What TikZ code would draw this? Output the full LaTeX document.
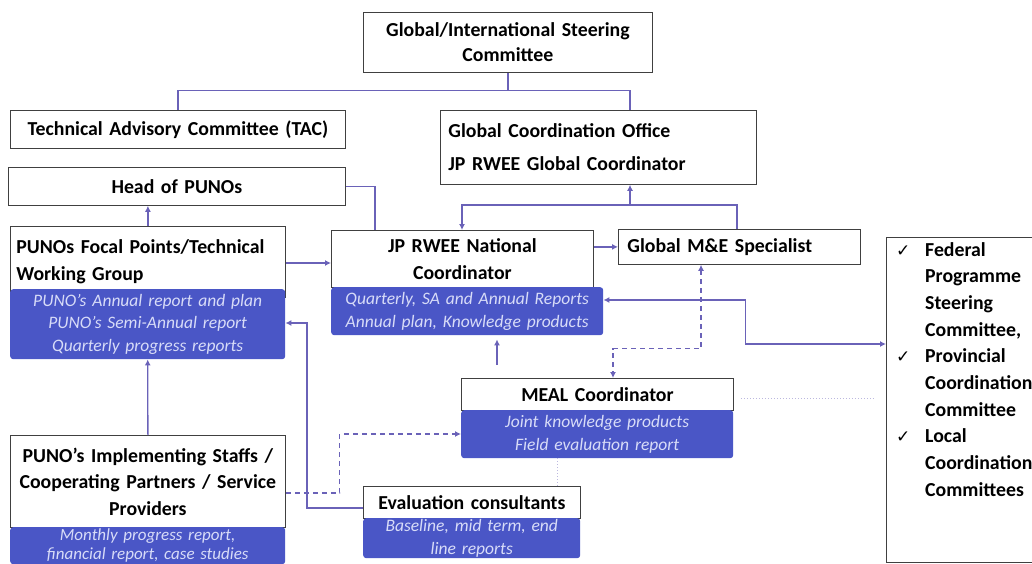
\documentclass[tikz,border=0pt]{standalone}
\usepackage{fontspec}
\setmainfont{Carlito}
\newfontfamily\dv{DejaVu Sans}
\usetikzlibrary{arrows.meta,calc}
\definecolor{ln}{HTML}{6A62B8}
\definecolor{bf}{HTML}{4A56C6}
\definecolor{bt}{HTML}{D8DCF8}
\definecolor{bd}{HTML}{404040}
\newcommand{\chkmk}{\makebox[29pt][l]{\dv\mdseries\fontsize{17}{17}\selectfont ✓}}
\newcommand{\chkind}{\hspace*{29pt}}
\begin{document}
\begin{tikzpicture}[x=1pt,y=-1pt,
  box/.style={draw=bd, line width=0.8pt, fill=white, anchor=north west, inner sep=0pt,
    font=\bfseries\fontsize{19.8}{26.5}\selectfont, align=center},
  blu/.style={fill=bf, anchor=north west, inner sep=0pt, rounded corners=3pt,
    font=\itshape\fontsize{17.5}{22.5}\selectfont, text=bt, align=center},
  plain/.style={draw=ln, line width=1.3pt},
  arr/.style={plain, -{Latex[length=6pt,width=6pt]}},
  arrb/.style={plain, {Latex[length=6pt,width=6pt]}-{Latex[length=6pt,width=6pt]}},
  darr/.style={arr, dashed, dash pattern=on 5pt off 4pt},
  darrb/.style={arrb, dashed, dash pattern=on 5pt off 4pt},
  dotl/.style={draw=ln!45, line width=1pt, dotted}]
\useasboundingbox (0,0) rectangle (1032,564);

% boxes
\node[box, text width=289pt, minimum height=60pt, font=\bfseries\fontsize{19.8}{25}\selectfont] (gisc) at (363,12) {Global/International Steering\\Committee};
\node[box, text width=335pt, minimum height=38pt] (tac) at (10,110) {Technical Advisory Committee (TAC)};
\node[box, text width=300pt, inner xsep=8pt, minimum height=74pt, align=left,
  font=\bfseries\fontsize{19.8}{33}\selectfont] (gco) at (440,110) {Global Coordination Office\\JP RWEE Global Coordinator};
\node[box, text width=337pt, minimum height=38pt] (head) at (8,167) {Head of PUNOs};

\node[box, text width=263pt, inner xsep=6pt, minimum height=71pt, align=left] (fp) at (10,226) {PUNOs Focal Points/Technical\\Working Group};
\node[blu, text width=275pt, minimum height=70pt] (fpb) at (10,289) {PUNO’s Annual report and plan\\PUNO’s Semi-Annual report\\Quarterly progress reports};

\node[box, text width=262pt, minimum height=57pt] (nc) at (331,230) {JP RWEE National\\Coordinator};
\node[blu, text width=272pt, minimum height=48pt] (ncb) at (331,287) {Quarterly, SA and Annual Reports\\Annual plan, Knowledge products};

\node[box, text width=224pt, inner xsep=9pt, minimum height=35pt, align=left] (me) at (618,229) {Global M\&E Specialist};

\node[box, text width=272pt, minimum height=32pt] (meal) at (461,378) {MEAL Coordinator};
\node[blu, text width=272pt, minimum height=48pt] (mealb) at (461,410) {Joint knowledge products\\Field evaluation report};

\node[box, text width=217pt, minimum height=32pt] (ev) at (363,486) {Evaluation consultants};
\node[blu, text width=217pt, minimum height=40pt] (evb) at (363,518) {Baseline, mid term, end\\line reports};

\node[box, text width=275pt, minimum height=92pt] (impl) at (10,435) {PUNO’s Implementing Staffs /\\Cooperating Partners / Service\\Providers};
\node[blu, text width=275pt, minimum height=37pt, font=\itshape\fontsize{17}{19}\selectfont] (implb) at (10,527) {Monthly progress report,\\financial report, case studies};

% right box (right side runs off the page)
\node[anchor=north west, inner sep=0pt, minimum width=146pt, minimum height=325pt] (rb) at (886,237) {};
\draw[bd, line width=0.8pt] (rb.north east) -- (rb.north west) -- (rb.south west) -- (rb.south east);
\node[anchor=north west, inner sep=0pt, align=left, font=\bfseries\fontsize{19.8}{26.7}\selectfont] (rbt) at (896,242)
 {\chkmk Federal\\\chkind Programme\\\chkind Steering\\\chkind Committee,\\
  \chkmk Provincial\\\chkind Coordination\\\chkind Committee\\
  \chkmk Local\\\chkind Coordination\\\chkind Committees};

% connectors
\draw[plain] (gisc.south) -- ++(0,18) -| ([xshift=168pt]tac.north west);
\draw[plain] (gisc.south) -- ++(0,18) -| ([xshift=190pt]gco.north west);
\draw[plain] (head.east) -| ([xshift=44pt]nc.north west);
\draw[arr] (fp.north) -- (fp.north |- head.south);
\draw[arr] ($(fp.north east)+(0,37)$) -- ($(nc.north west)+(0,33)$);
\coordinate (bj) at (630,205);
\draw[arr] (bj) -- (bj |- gco.south);
\draw[arr] ([xshift=119pt]me.north west) |- (bj) -| ([xshift=131pt]nc.north west);
\draw[arr] (me.west -| nc.east) -- (me.west);
\draw[darrb] ([xshift=83pt]me.south west) -- ++(0,84) -| ([xshift=152pt]meal.north west);
\draw[arrb] ($(ncb.north east)+(0,13)$) -- ++(142,0) -- ++(0,44) -- ($(rb.north west)+(0,107)$);
\draw[arr] ($(meal.north west)+(36,-13)$) -- ($(ncb.south west)+(166,4)$);
\draw[arr] ($(ev.north west)+(0,22)$) -- ++(-56,0) |- ($(fpb.north east)+(0,34)$);
\draw[arr] (impl.north) -- (fpb.south);
\draw[darr] ($(impl.north east)+(0,58)$) -- ++(54,0) |- ($(mealb.north west)+(0,24)$);
\draw[dotl] ([xshift=96pt]mealb.south west) -- ([xshift=194pt]ev.north west);
\draw[dotl] ($(meal.north east)+(7,20)$) -- ($(rb.north west)+(-13,161)$);
\end{tikzpicture}
\end{document}
